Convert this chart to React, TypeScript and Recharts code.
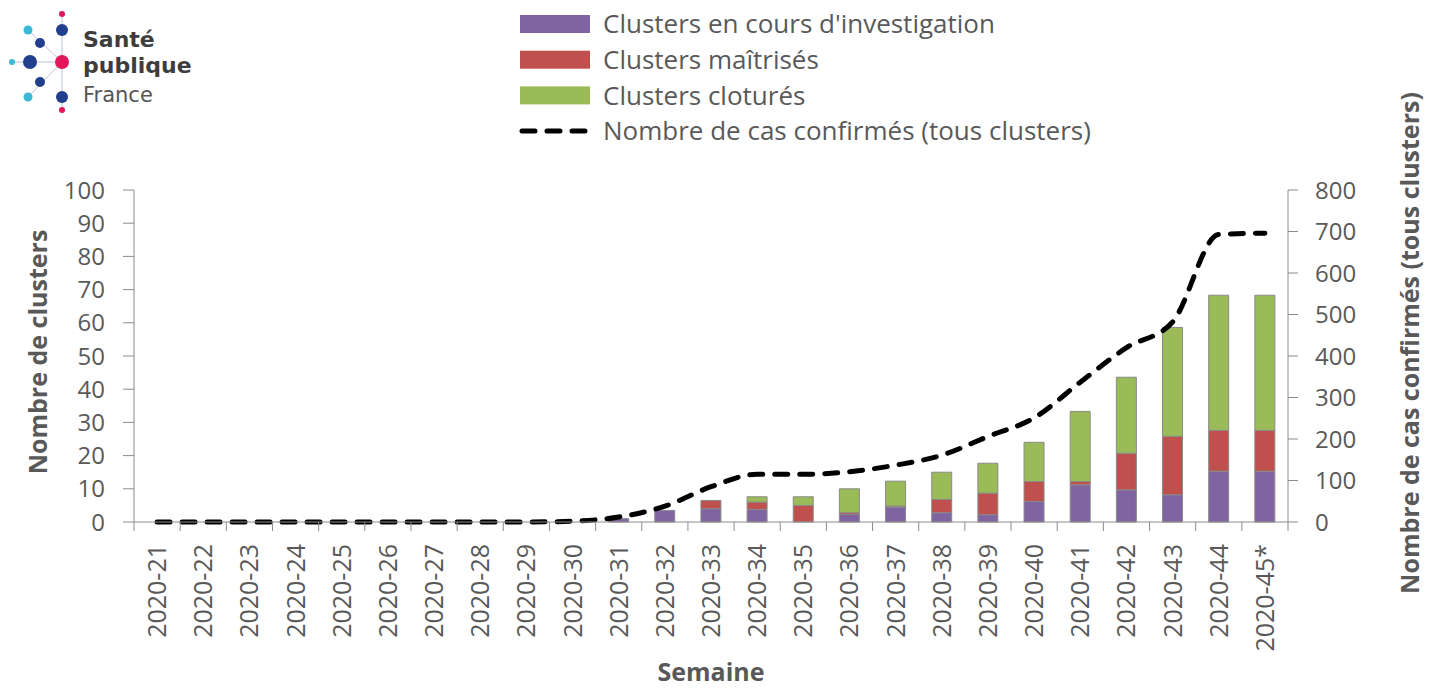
import React from "react";
import { Bar, ComposedChart, Label, Line, XAxis, YAxis } from "recharts";

const weeks = [
  "2020-21", "2020-22", "2020-23", "2020-24", "2020-25", "2020-26", "2020-27",
  "2020-28", "2020-29", "2020-30", "2020-31", "2020-32", "2020-33", "2020-34",
  "2020-35", "2020-36", "2020-37", "2020-38", "2020-39", "2020-40", "2020-41",
  "2020-42", "2020-43", "2020-44", "2020-45*",
];
// clusters (left axis)
const enCours = [0, 0, 0, 0, 0, 0, 0, 0, 0, 0, 1, 3.5, 4, 3.8, 0, 2.3, 4.5, 2.8, 2.2, 6.2, 11.2, 9.7, 8.2, 15.3, 15.3];
const maitrises = [0, 0, 0, 0, 0, 0, 0, 0, 0, 0, 0, 0, 2.5, 2.2, 5, 0.5, 0.3, 4, 6.5, 6, 1, 11, 17.6, 12.3, 12.3];
const clotures = [0, 0, 0, 0, 0, 0, 0, 0, 0, 0, 0, 0, 0, 1.6, 2.6, 7.2, 7.5, 8.2, 9, 11.8, 21.1, 22.9, 32.8, 40.7, 40.7];
// confirmed cases (right axis)
const cas = [0, 0, 0, 0, 0, 0, 0, 0, 0, 2, 12, 38, 85, 115, 115, 121, 137, 161, 206, 251, 337, 420, 482, 693, 696];

const leftTicks = [0, 10, 20, 30, 40, 50, 60, 70, 80, 90, 100];
const rightTicks = [0, 100, 200, 300, 400, 500, 600, 700, 800];

const data = weeks.map((w, i) => ({
  week: w,
  enCours: enCours[i],
  maitrises: maitrises[i],
  clotures: clotures[i],
  cas: cas[i],
}));

const FONT = "'Open Sans', sans-serif";
const LOGO_FONT = "'DejaVu Sans', sans-serif";
const TEXT = "#595959";
const AXIS = "#8c8c8c";
const PURPLE = "#8064a2";
const RED = "#c0504d";
const GREEN = "#9bbb59";

const W = 1436;
const H = 688;
const LEFT_W = 134;
const RIGHT_W = 148;
const BAND = (W - LEFT_W - RIGHT_W) / weeks.length;

function WeekTick(props: any) {
  const { x, y, payload, index } = props;
  const last = index === weeks.length - 1;
  return (
    <g>
      <line x1={x - BAND / 2} y1={y} x2={x - BAND / 2} y2={y + 9} stroke={AXIS} />
      {last && <line x1={x + BAND / 2} y1={y} x2={x + BAND / 2} y2={y + 9} stroke={AXIS} />}
      <text
        transform={`translate(${x},${y + 22}) rotate(-90)`}
        textAnchor="end"
        dy="0.36em"
        fill={TEXT}
        fontSize={25}
        fontFamily={FONT}
      >
        {payload.value}
      </text>
    </g>
  );
}

const title = { fill: TEXT, fontSize: 25, fontWeight: 700, fontFamily: FONT };

function LeftTitle({ viewBox }: any) {
  const cx = viewBox.x + 38;
  const cy = viewBox.y + viewBox.height / 2 - 4;
  return (
    <text transform={`translate(${cx},${cy}) rotate(-90)`} textAnchor="middle" dy="0.36em" {...title}>
      Nombre de clusters
    </text>
  );
}

function RightTitle({ viewBox }: any) {
  const cx = viewBox.x + 122;
  const cy = viewBox.y + viewBox.height / 2 - 13;
  return (
    <text transform={`translate(${cx},${cy}) rotate(-90)`} textAnchor="middle" dy="0.36em" {...title}>
      Nombre de cas confirmés (tous clusters)
    </text>
  );
}

function XTitle({ viewBox }: any) {
  return (
    <text x={viewBox.x + viewBox.width / 2} y={viewBox.y + 150} textAnchor="middle" dy="0.36em" {...title}>
      Semaine
    </text>
  );
}

const legendItems = [
  { label: "Clusters en cours d'investigation", color: PURPLE },
  { label: "Clusters maîtrisés", color: RED },
  { label: "Clusters cloturés", color: GREEN },
  { label: "Nombre de cas confirmés (tous clusters)", color: null },
];

function LegendBox() {
  return (
    <svg width={700} height={150} style={{ position: "absolute", left: 500, top: 0, pointerEvents: "none" }}>
      {legendItems.map((it, i) => {
        const cy = 24 + i * 35.7;
        return (
          <g key={it.label}>
            {it.color ? (
              <rect x={20} y={cy - 9} width={70} height={18} fill={it.color} />
            ) : (
              <line x1={22} y1={cy} x2={88} y2={cy} stroke="#000" strokeWidth={5} strokeDasharray="13 12" strokeLinecap="round" />
            )}
            <text x={103} y={cy} dy="0.36em" fill={TEXT} fontSize={26} fontFamily={FONT}>
              {it.label}
            </text>
          </g>
        );
      })}
    </svg>
  );
}

const NAVY = "#213f8c";
const CYAN = "#3cb7d4";
const PINK = "#e3175a";

function Logo() {
  return (
    <svg width={210} height={120} style={{ position: "absolute", left: 0, top: 0, pointerEvents: "none" }}>
      <g stroke="#b9c3dc" strokeWidth={1}>
        <line x1={62} y1={14} x2={62} y2={110} />
        <line x1={12} y1={62} x2={62} y2={62} />
        <line x1={28} y1={30} x2={62} y2={62} />
        <line x1={28} y1={97} x2={62} y2={62} />
      </g>
      <circle cx={62} cy={14} r={3} fill={PINK} />
      <circle cx={62} cy={30} r={6} fill={NAVY} />
      <circle cx={28} cy={30} r={4.5} fill={CYAN} />
      <circle cx={40} cy={43} r={5} fill={NAVY} />
      <circle cx={12} cy={62} r={3} fill={CYAN} />
      <circle cx={30} cy={62} r={7} fill={NAVY} />
      <circle cx={62} cy={62} r={7} fill={PINK} />
      <circle cx={40} cy={82} r={5} fill={NAVY} />
      <circle cx={28} cy={97} r={4.5} fill={CYAN} />
      <circle cx={62} cy={97} r={6} fill={NAVY} />
      <circle cx={62} cy={110} r={3} fill={PINK} />
      <g fontFamily={LOGO_FONT} fill="#3d3d3d">
        <text x={83} y={47} fontSize={22} fontWeight={700}>Santé</text>
        <text x={83} y={73} fontSize={22} fontWeight={700}>publique</text>
        <text x={83} y={102} fontSize={21} fontWeight={400} fill="#555">France</text>
      </g>
    </svg>
  );
}

export default function App() {
  return (
    <div style={{ position: "absolute", left: 0, top: 0, width: W, height: H, background: "#fff", fontFamily: FONT }}>
      <ComposedChart width={W} height={H} data={data} margin={{ top: 190, right: 0, bottom: 0, left: 0 }} barSize={20}>
        <XAxis
          dataKey="week"
          interval={0}
          height={166}
          tick={<WeekTick />}
          tickLine={false}
          tickSize={0}
          tickMargin={0}
          axisLine={{ stroke: AXIS }}
        >
          <Label content={<XTitle />} />
        </XAxis>
        <YAxis
          yAxisId="left"
          domain={[0, 100]}
          ticks={leftTicks}
          width={LEFT_W}
          tickSize={11}
          tickMargin={18}
          tick={{ fill: TEXT, fontSize: 24, fontFamily: FONT }}
          tickLine={{ stroke: AXIS }}
          axisLine={{ stroke: AXIS }}
        >
          <Label content={<LeftTitle />} />
        </YAxis>
        <YAxis
          yAxisId="right"
          orientation="right"
          domain={[0, 800]}
          ticks={rightTicks}
          width={RIGHT_W}
          tickSize={10}
          tickMargin={17}
          tick={{ fill: TEXT, fontSize: 24, fontFamily: FONT, textAnchor: "start" }}
          tickLine={{ stroke: AXIS }}
          axisLine={{ stroke: AXIS }}
        >
          <Label content={<RightTitle />} />
        </YAxis>
        <Bar yAxisId="left" dataKey="enCours" stackId="c" fill={PURPLE} stroke="#8a8a8a" strokeWidth={1} isAnimationActive={false} />
        <Bar yAxisId="left" dataKey="maitrises" stackId="c" fill={RED} stroke="#8a8a8a" strokeWidth={1} isAnimationActive={false} />
        <Bar yAxisId="left" dataKey="clotures" stackId="c" fill={GREEN} stroke="#8a8a8a" strokeWidth={1} isAnimationActive={false} />
        <Line
          yAxisId="right"
          type="monotone"
          dataKey="cas"
          stroke="#000"
          strokeWidth={5}
          strokeDasharray="13 12"
          strokeLinecap="round"
          dot={false}
          activeDot={false}
          isAnimationActive={false}
        />
      </ComposedChart>
      <Logo />
      <LegendBox />
    </div>
  );
}
